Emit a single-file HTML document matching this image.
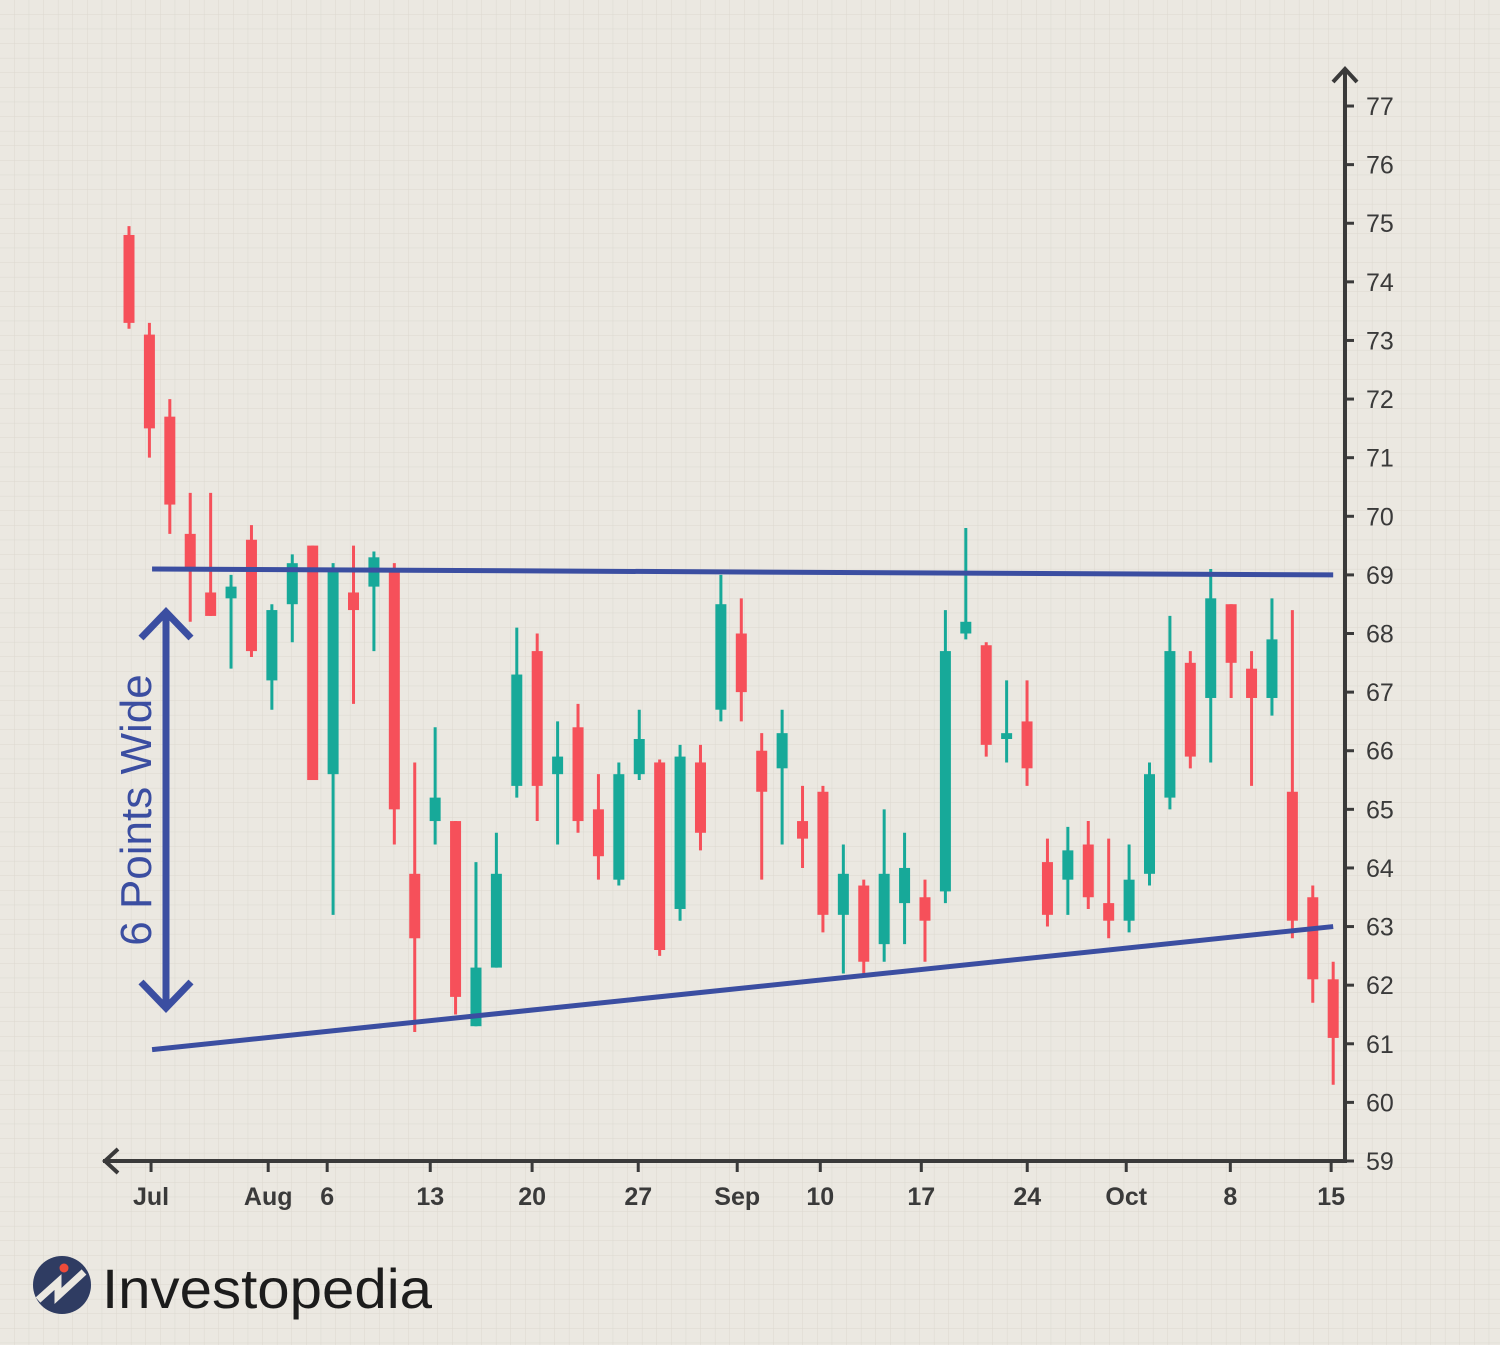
<!DOCTYPE html>
<html><head><meta charset="utf-8"><style>
html,body{margin:0;padding:0;background:#ebe8e1;}
svg{display:block;font-family:"Liberation Sans",sans-serif;}
</style></head><body>
<svg id="chart" width="1500" height="1345" viewBox="0 0 1500 1345" xmlns="http://www.w3.org/2000/svg">
<defs>
<pattern id="grid" width="14.6" height="14.6" patternUnits="userSpaceOnUse">
<path d="M14.6 0V14.6M0 14.6H14.6" stroke="#dcd8cf" stroke-width="1" fill="none"/>
</pattern>
</defs>
<rect width="1500" height="1345" fill="#ebe8e1"/>
<rect width="1500" height="1345" fill="url(#grid)"/>
<g id="candles"></g>
<g id="axes"></g>
<g id="annot"></g>
<g>
<circle cx="62" cy="1285" r="29" fill="#2f3c62"/>
<path d="M38 1300 L58 1282 L58 1296 L84 1272" stroke="#ebe8e1" stroke-width="7" fill="none" stroke-linejoin="miter"/>
<circle cx="64" cy="1268" r="4.5" fill="#ef4b3a"/>
<text x="102" y="1308" font-size="56" textLength="330" lengthAdjust="spacingAndGlyphs" fill="#1c1c1c">Investopedia</text>
</g>
</svg>
<script>
const opens  = [74.8,73.1,71.7,69.7,68.7,68.6,69.6,67.2,68.5,69.5,65.6,68.7,68.8,69.1,63.9,64.8,64.8,61.3,62.3,65.4,67.7,65.6,66.4,65.0,63.8,65.6,65.8,63.3,65.8,66.7,68.0,66.0,65.7,64.8,65.3,63.2,63.7,62.7,63.4,63.5,63.6,68.0,67.8,66.2,66.5,64.1,63.8,64.4,63.4,63.1,63.9,65.2,67.5,66.9,68.5,67.4,66.9,65.3,63.5,62.1];
const closes = [73.3,71.5,70.2,69.1,68.3,68.8,67.7,68.4,69.2,65.5,69.1,68.4,69.3,65.0,62.8,65.2,61.8,62.3,63.9,67.3,65.4,65.9,64.8,64.2,65.6,66.2,62.6,65.9,64.6,68.5,67.0,65.3,66.3,64.5,63.2,63.9,62.4,63.9,64.0,63.1,67.7,68.2,66.1,66.3,65.7,63.2,64.3,63.5,63.1,63.8,65.6,67.7,65.9,68.6,67.5,66.9,67.9,63.1,62.1,61.1];
const highs  = [74.95,73.3,72.0,70.4,70.4,69.0,69.85,68.5,69.35,69.5,69.2,69.5,69.4,69.2,65.8,66.4,64.8,64.1,64.6,68.1,68.0,66.5,66.8,65.6,65.8,66.7,65.85,66.1,66.1,69.0,68.6,66.3,66.7,65.4,65.4,64.4,63.8,65.0,64.6,63.8,68.4,69.8,67.85,67.2,67.2,64.5,64.7,64.8,64.5,64.4,65.8,68.3,67.7,69.1,68.5,67.7,68.6,68.4,63.7,62.4];
const lows   = [73.2,71.0,69.7,68.2,68.3,67.4,67.6,66.7,67.85,65.5,63.2,66.8,67.7,64.4,61.2,64.4,61.5,61.3,62.3,65.2,64.8,64.4,64.6,63.8,63.7,65.5,62.5,63.1,64.3,66.5,66.5,63.8,64.4,64.0,62.9,62.2,62.2,62.4,62.7,62.4,63.4,67.9,65.9,65.8,65.4,63.0,63.2,63.3,62.8,62.9,63.7,65.0,65.7,65.8,66.9,65.4,66.6,62.8,61.7,60.3];
const yTicks = [59,60,61,62,63,64,65,66,67,68,69,70,71,72,73,74,75,76,77];
const xTickLabels = ["Jul","Aug","6","13","20","27","Sep","10","17","24","Oct","8","15"];
const xTickIdx = [1.08,6.82,9.71,14.76,19.75,24.95,29.8,33.87,38.82,44.01,48.86,53.96,58.9];
const upperLine = [69.1,69.0];
const lowerLine = [60.9,63.0];
const lineIdx = [1.13,59];

const NS="http://www.w3.org/2000/svg";
function y(v){return 1161-(v-59)*58.61;}
function x(i){return 129+i*20.41;}
function mk(tag,attrs,parent){const e=document.createElementNS(NS,tag);for(const k in attrs)e.setAttribute(k,attrs[k]);parent.appendChild(e);return e;}

const cg=document.getElementById('candles');
for(let i=0;i<opens.length;i++){
  const up=closes[i]>=opens[i];
  const col=up?'#17a999':'#f6505a';
  const w=mk('line',{x1:x(i),x2:x(i),y1:y(highs[i]),y2:y(lows[i]),stroke:col,'stroke-width':3},cg);
  
  
  const top=y(Math.max(opens[i],closes[i])),bot=y(Math.min(opens[i],closes[i]));
  const b=mk('rect',{x:x(i)-5.5,y:top,width:11,height:Math.max(bot-top,3),fill:col},cg);
  
  
}

const ag=document.getElementById('axes');
const ax=mk('path',{d:'M103 1161H1345V70',stroke:'#3a3a3a','stroke-width':4,fill:'none'},ag);


const a1=mk('path',{d:'M118 1149L105 1161L118 1173',stroke:'#3a3a3a','stroke-width':4,fill:'none'},ag);


const a2=mk('path',{d:'M1333 82L1345 69L1357 82',stroke:'#3a3a3a','stroke-width':4,fill:'none'},ag);


yTicks.forEach(v=>{
  const t=mk('line',{x1:1345,x2:1354,y1:y(v),y2:y(v),stroke:'#3a3a3a','stroke-width':3},ag);
  
  
  const l=mk('text',{x:1366,y:y(v)+9,'font-size':25,fill:'#3a3a3a'},ag);
  
  
  l.textContent=v;
});
xTickLabels.forEach((s,k)=>{
  const xx=x(xTickIdx[k]);
  const t=mk('line',{x1:xx,x2:xx,y1:1161,y2:1172,stroke:'#3a3a3a','stroke-width':3},ag);
  
  
  const l=mk('text',{x:xx,y:1205,'font-size':25,fill:'#3a3a3a','text-anchor':'middle','font-weight':'bold'},ag);
  
  
  l.textContent=s;
});

const ng=document.getElementById('annot');
const u=mk('line',{x1:x(lineIdx[0]),x2:x(lineIdx[1]),y1:y(upperLine[0]),y2:y(upperLine[1]),stroke:'#3b4ea1','stroke-width':5},ng);


const lo=mk('line',{x1:x(lineIdx[0]),x2:x(lineIdx[1]),y1:y(lowerLine[0]),y2:y(lowerLine[1]),stroke:'#3b4ea1','stroke-width':5},ng);


const arr=mk('path',{d:'M166 612V1008M141 638L166 612L191 638M141 982L166 1008L191 982',stroke:'#3b4ea1','stroke-width':7,fill:'none'},ng);


const lab=mk('text',{x:0,y:0,'font-size':44,fill:'#3b4ea1','text-anchor':'middle',transform:'translate(151,810) rotate(-90)'},ng);


lab.textContent='6 Points Wide';
</script>
</body></html>
